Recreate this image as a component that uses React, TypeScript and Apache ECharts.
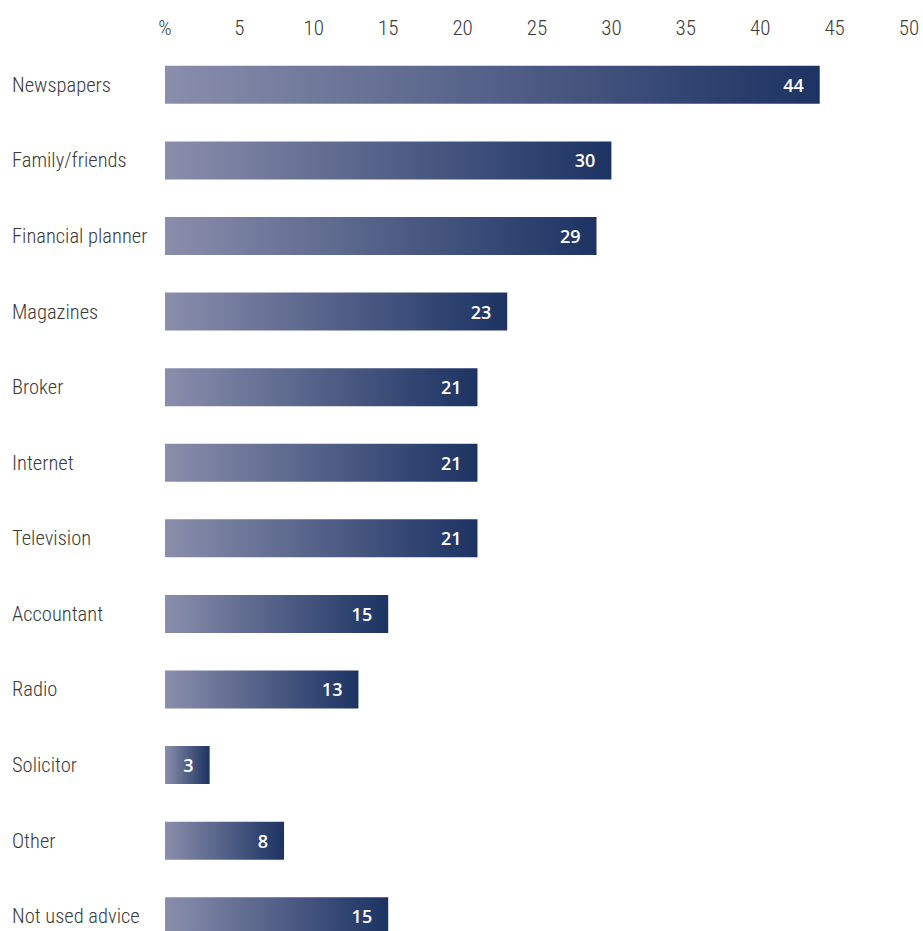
import React, { useEffect, useRef } from "react";
import * as echarts from "echarts";

const categories = [
  "Newspapers",
  "Family/friends",
  "Financial planner",
  "Magazines",
  "Broker",
  "Internet",
  "Television",
  "Accountant",
  "Radio",
  "Solicitor",
  "Other",
  "Not used advice",
];
const values = [44, 30, 29, 23, 21, 21, 21, 15, 13, 3, 8, 15];
const axisMax = 50;
const axisInterval = 5;

export default function App() {
  const ref = useRef<HTMLDivElement>(null);
  useEffect(() => {
    document.body.style.margin = "0";
    document.body.style.overflow = "hidden";
    if (!ref.current) return;
    const chart = echarts.init(ref.current, undefined, { renderer: "svg" });
    const font = "'Liberation Sans Narrow', 'Roboto Condensed', 'Roboto', sans-serif";
    chart.setOption({
      animation: false,
      grid: { left: 165, right: 14, top: 47, bottom: 0, containLabel: false },
      xAxis: {
        type: "value",
        position: "top",
        min: 0,
        max: axisMax,
        interval: axisInterval,
        axisLine: { show: false },
        axisTick: { show: false },
        splitLine: { show: false },
        axisLabel: {
          margin: 9,
          fontSize: 21,
          fontWeight: 300,
          color: "#3a3a3a",
          fontFamily: font,
          formatter: (v: number) => (v === 0 ? "%" : String(v)),
        },
      },
      yAxis: {
        type: "category",
        inverse: true,
        data: categories,
        axisLine: { show: false },
        axisTick: { show: false },
        axisLabel: {
          align: "left",
          margin: 153,
          fontSize: 20.5,
          fontWeight: 300,
          color: "#3a3a3a",
          fontFamily: font,
        },
      },
      series: [
        {
          type: "bar",
          data: values,
          barWidth: 38,
          itemStyle: {
            color: new echarts.graphic.LinearGradient(0, 0, 1, 0, [
              { offset: 0, color: "#8a8eac" },
              { offset: 1, color: "#1c3363" },
            ]),
          },
          label: {
            show: true,
            position: "insideRight",
            distance: 16,
            color: "#fff",
            fontSize: 18,
            fontWeight: 600,
            fontFamily: "'Open Sans', Roboto, sans-serif",
          },
        },
      ],
    });
    return () => chart.dispose();
  }, []);
  return <div ref={ref} style={{ width: 923, height: 954 }} />;
}
